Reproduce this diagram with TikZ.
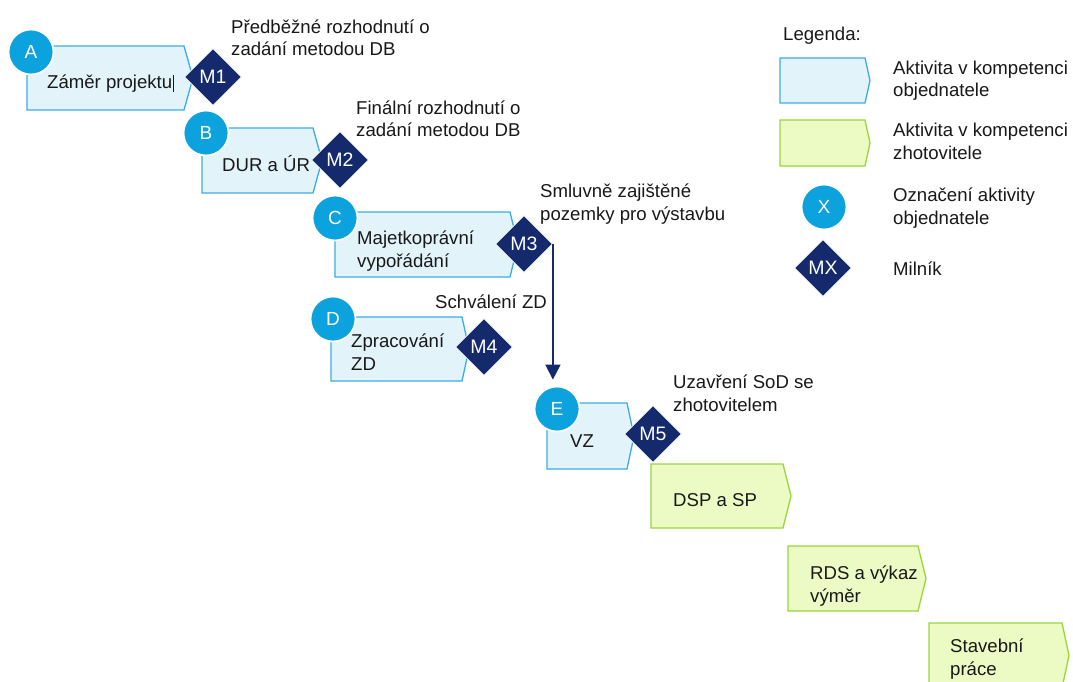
\documentclass[tikz,border=0pt]{standalone}
\usepackage{fontspec}
\setmainfont{Liberation Sans}
\usetikzlibrary{shapes.geometric,arrows.meta}
\definecolor{actfill}{HTML}{E3F3FA}
\definecolor{actline}{HTML}{3BAEE0}
\definecolor{zhfill}{HTML}{ECFAC4}
\definecolor{zhline}{HTML}{9AD63A}
\definecolor{circfill}{HTML}{0CA2DD}
\definecolor{navy}{HTML}{142A6C}
\newcommand\pentbox[6]{\path[#1] (#2,#3) -- (#4,#3) -- (#5,{(#3+#6)/2}) -- (#4,#6) -- (#2,#6) -- cycle;}
\tikzset{
  actbox/.style={fill=actfill,draw=actline,line width=1.3pt,line join=miter},
  zhbox/.style={fill=zhfill,draw=zhline,line width=1.3pt,line join=miter},
  ltr/.style={circle,fill=circfill,draw=white,line width=1.8pt,minimum size=45pt,inner sep=0pt,text=white,font=\fontsize{19}{20}\selectfont},
  mile/.style={diamond,aspect=1,fill=navy,draw=white,line width=0.8pt,minimum width=57pt,minimum height=57pt,inner sep=0pt,text=white,font=\fontsize{19.5}{21}\selectfont},
  lbl/.style={inner sep=0pt,anchor=base west,align=left,text=black!90,font=\fontsize{18.6}{22.3}\selectfont},
  conn/.style={draw=navy,line width=1.8pt,-{Triangle[width=15pt,length=15pt]}}
}
\begin{document}
\begin{tikzpicture}[x=1pt,y=-1pt]
\clip (0,0) rectangle (1073,682);
\fill[white] (0,0) rectangle (1073,682);
% activity boxes
\pentbox{actbox}{27}{46}{184}{193}{110}
\pentbox{actbox}{202}{128}{313}{322}{193}
\pentbox{actbox}{335}{212}{510}{518}{277}
\pentbox{actbox}{331}{317}{462}{469}{381}
\pentbox{actbox}{547}{403}{627}{634}{469}
\pentbox{zhbox}{651}{464}{783}{791}{528}
\pentbox{zhbox}{788}{546}{918}{926}{611}
\pentbox{zhbox}{929}{623}{1062}{1069}{688}
% legend boxes
\pentbox{actbox}{780}{58}{865}{870}{103}
\pentbox{zhbox}{780}{120}{865}{870}{166}
% box texts (anchor = baseline of last line)
\node[lbl] (tA) at (47,89) {Záměr projektu\kern0.5pt\rule[-3pt]{0.8pt}{17pt}};
\node[lbl] (tB) at (222,171) {DUR a ÚR};
\node[lbl] (tC) at (357,267) {Majetkoprávní\\vypořádání};
\node[lbl] (tD) at (351,370) {Zpracování\\ZD};
\node[lbl] (tE) at (570,447) {VZ};
\node[lbl] (tF) at (673,506) {DSP a SP};
\node[lbl] (tG) at (810,602) {RDS a výkaz\\výměr};
\node[lbl] (tH) at (950,675) {Stavební\\práce};
% circles
\node[ltr] (A) at (31,52) {A};
\node[ltr] (B) at (206,133) {B};
\node[ltr] (C) at (335,218) {C};
\node[ltr] (D) at (333,319) {D};
\node[ltr] (E) at (557,409) {E};
% milestones
\node[mile] (M1) at (213,77) {M1};
\node[mile] (M2) at (340,160) {M2};
\node[mile] (M3) at (524,244) {M3};
\node[mile] (M4) at (484,347) {M4};
\node[mile] (M5) at (653,434) {M5};
% milestone labels
\node[lbl] (l1) at (231,56) {Předběžné rozhodnutí o\\zadání metodou DB};
\node[lbl] (l2) at (356,137) {Finální rozhodnutí o\\zadání metodou DB};
\node[lbl] (l3) at (540,220) {Smluvně zajištěné\\pozemky pro výstavbu};
\node[lbl] (l4) at (435,308) {Schválení ZD};
\node[lbl] (l5) at (673,411) {Uzavření SoD se\\zhotovitelem};
% connector
\draw[conn] (M3.east) -- (M3.east |- E.north) [shorten >=6pt];
% legend
\node[lbl] (leg) at (783,41) {Legenda:};
\node[lbl] (lg1) at (893,97) {Aktivita v kompetenci\\objednatele};
\node[lbl] (lg2) at (893,159) {Aktivita v kompetenci\\zhotovitele};
\node[ltr] (X) at (824,207) {X};
\node[lbl] (lg3) at (893,224) {Označení aktivity\\objednatele};
\node[mile] (MX) at (823,268) {MX};
\node[lbl] (lg4) at (893,275) {Milník};
\end{tikzpicture}
\end{document}
